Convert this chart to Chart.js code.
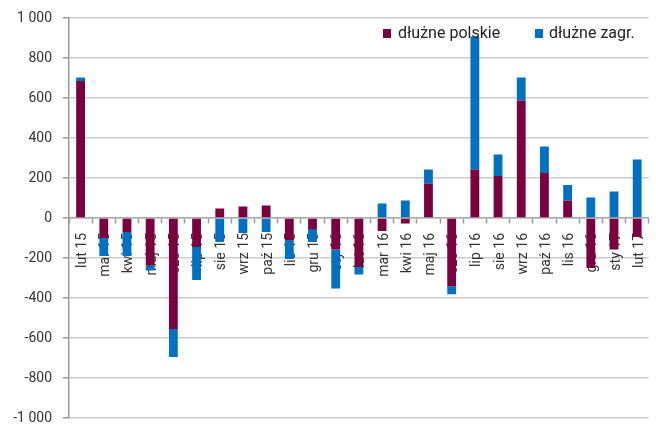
<!DOCTYPE html>
<html>
<head>
<meta charset="utf-8">
<script src="https://cdn.jsdelivr.net/npm/chart.js@4/dist/chart.umd.min.js"></script>
<style>
  html, body { margin: 0; padding: 0; background: #fff; overflow: hidden; width: 656px; height: 427px; }
  #wrap { width: 664px; height: 427px; }
  canvas { display: block; }
</style>
</head>
<body>
<div id="wrap"><canvas id="c" width="664" height="427"></canvas></div>
<script>
const categories = ['lut 15','mar 15','kwi 15','maj 15','cze 15','lip 15','sie 15','wrz 15','paź 15','lis 15','gru 15','sty 16','lut 16','mar 16','kwi 16','maj 16','cze 16','lip 16','sie 16','wrz 16','paź 16','lis 16','gru 16','sty 17','lut 17'];
const dluznePolskie = [685, -100, -70, -238, -555, -145, 48, 57, 63, -110, -55, -158, -245, -65, -28, 172, -341, 242, 210, 588, 225, 87, -250, -158, -95];
const dluzneZagr   = [18, -90, -120, -24, -140, -165, -120, -75, -70, -95, -65, -195, -37, 72, 88, 70, -40, 666, 108, 115, 133, 78, 102, 133, 293];
const seriesNames = ['dłużne polskie', 'dłużne zagr.'];

const FONT = 'Roboto, "Noto Sans", sans-serif';

function fmt(v) {
  const s = Math.abs(v).toString().replace(/\B(?=(\d{3})+(?!\d))/g, ' ');
  return (v < 0 ? '-' : '') + s;
}

const legendPlugin = {
  id: 'customLegend',
  afterDraw(chart) {
    const ctx = chart.ctx;
    const items = [
      { x: 383, textX: 398 },
      { x: 535, textX: 549 }
    ];
    ctx.save();
    ctx.font = '16px ' + FONT;
    ctx.textBaseline = 'middle';
    ctx.textAlign = 'left';
    chart.data.datasets.forEach((ds, i) => {
      const it = items[i];
      ctx.fillStyle = ds.backgroundColor;
      ctx.fillRect(it.x, 29, 8, 9);
      ctx.fillStyle = '#222';
      ctx.fillText(ds.label, it.textX, 34);
    });
    ctx.restore();
  }
};

new Chart(document.getElementById('c'), {
  type: 'bar',
  data: {
    labels: categories,
    datasets: [
      { label: seriesNames[0], data: dluznePolskie, backgroundColor: '#7a003f', borderWidth: 0, categoryPercentage: 1, barPercentage: 0.38 },
      { label: seriesNames[1], data: dluzneZagr, backgroundColor: '#0070c0', borderWidth: 0, categoryPercentage: 1, barPercentage: 0.38 }
    ]
  },
  options: {
    responsive: false,
    animation: false,
    devicePixelRatio: 1,
    layout: { padding: { top: 18, bottom: 9, left: 0, right: 0 } },
    plugins: { legend: { display: false }, tooltip: { enabled: false } },
    scales: {
      x: {
        stacked: true,
        z: 1,
        position: { y: 0 },
        offset: true,
        grid: { display: true, drawOnChartArea: false, offset: true, tickLength: 5, tickColor: '#999', tickWidth: 1.5 },
        border: { display: true, color: '#aaa', width: 1.5 },
        ticks: { autoSkip: false, maxRotation: 90, minRotation: 90, padding: 10, labelOffset: 2, color: '#333', font: { family: FONT, size: 14 } }
      },
      y: {
        stacked: true,
        min: -1000, max: 1000,
        ticks: { stepSize: 200, padding: 11, color: '#333', font: { family: FONT, size: 14 }, callback: (v) => fmt(v) },
        grid: { color: '#cccccc', lineWidth: 1.5, tickLength: 6, tickColor: '#999', tickWidth: 1.5 },
        border: { display: true, color: '#999', width: 1.5 },
        afterFit(s) { s.width = 69; s.paddingTop = 0; s.paddingBottom = 0; }
      }
    }
  },
  plugins: [legendPlugin]
});
</script>
</body>
</html>
